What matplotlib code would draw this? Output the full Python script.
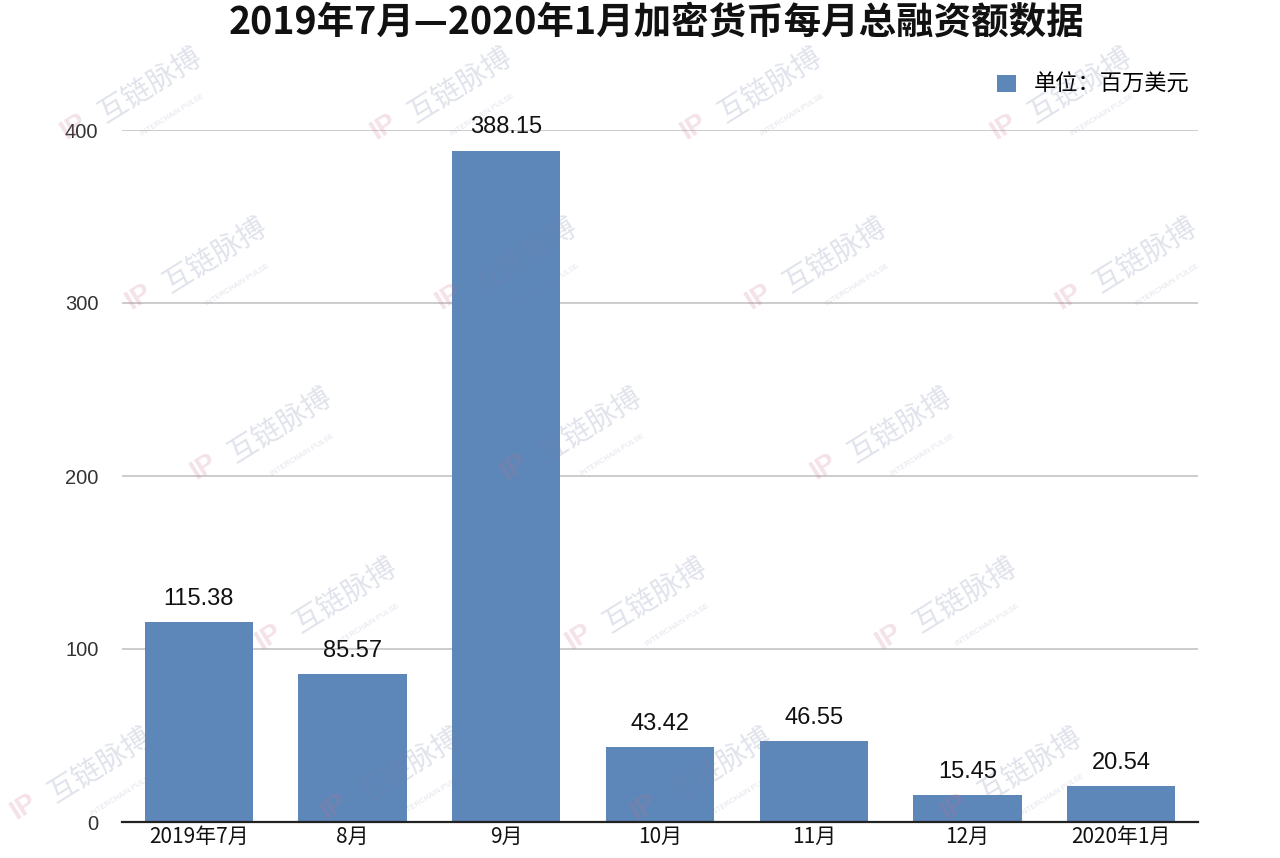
import matplotlib.pyplot as plt
import numpy as np

months = ['2019年7月', '8月', '9月', '10月', '11月', '12月', '2020年1月']
funding = [115.38, 85.57, 388.15, 43.42, 46.55, 15.45, 20.54]
yticks = [0, 100, 200, 300, 400]

title = '2019年7月—2020年1月加密货币每月总融资额数据'
legend_label = '单位：百万美元'

plt.rcParams['font.family'] = ['Liberation Sans', 'Noto Sans CJK SC', 'DejaVu Sans']

W, H = 1280, 858
fig = plt.figure(figsize=(W / 100, H / 100), dpi=100)

ax = fig.add_axes([122 / W, 36 / H, 1076 / W, 692 / H])
ax.patch.set_alpha(0)

bar_color = '#5d87b9'
x = np.arange(len(months))
ax.bar(x, funding, width=0.705, color=bar_color, zorder=3, label=legend_label)

for xi, v in zip(x, funding):
    ax.text(xi, v + 7, f'{v:.2f}', ha='center', va='bottom', fontsize=17,
            color='#111111', zorder=4)

ax.set_xlim(-0.5, len(months) - 0.5)
ax.set_ylim(0, 400)
ax.set_yticks(yticks)
ax.set_xticks(x)
ax.set_xticklabels(months, fontsize=15, color='#111111',
                   family=['Noto Sans CJK SC', 'DejaVu Sans'])
ax.tick_params(axis='y', length=0, pad=17, labelsize=14.5, labelcolor='#333333')
ax.tick_params(axis='x', length=0, pad=3)
ax.grid(axis='y', color='#c4c4c4', linewidth=1.2, zorder=0)
for s in ['top', 'right', 'left']:
    ax.spines[s].set_visible(False)
ax.spines['bottom'].set_color('#222222')
ax.spines['bottom'].set_linewidth(1.6)
ax.spines['bottom'].set_zorder(5)

ax.legend(loc='upper right', bbox_to_anchor=(1.0, 1.095), frameon=False,
          handlelength=0.85, handleheight=0.85, handletextpad=0.8, borderaxespad=0,
          prop={'family': ['Noto Sans CJK SC'], 'size': 16})

fig.text(656 / W, 1 - 2 / H, title, ha='center', va='top', fontsize=27,
         fontweight='bold', color='#111111', family=['Noto Sans CJK SC', 'DejaVu Sans'])

# faint watermark tiles over the chart
for r in range(5):
    y0 = 85 + r * 170
    for c in range(-1, 5):
        x0 = 150 + r * 65 + c * 310
        if x0 < 75 or x0 > W - 75:
            continue
        fig.text(x0 / W, 1 - y0 / H, '互链脉搏', rotation=32, ha='center', va='center',
                 fontsize=21, color='#7880a8', alpha=0.22,
                 family=['Noto Sans CJK SC'], zorder=10)
        fig.text((x0 + 22) / W, 1 - (y0 + 30) / H, 'INTERCHAIN PULSE', rotation=32,
                 ha='center', va='center', fontsize=5.5, color='#7880a8', alpha=0.22,
                 zorder=10)
        fig.text((x0 - 76) / W, 1 - (y0 + 42) / H, 'IP', rotation=32, ha='center',
                 va='center', fontsize=20, fontweight='bold', color='#c8708a',
                 alpha=0.2, zorder=10)

fig.savefig('out.png', dpi=100)
